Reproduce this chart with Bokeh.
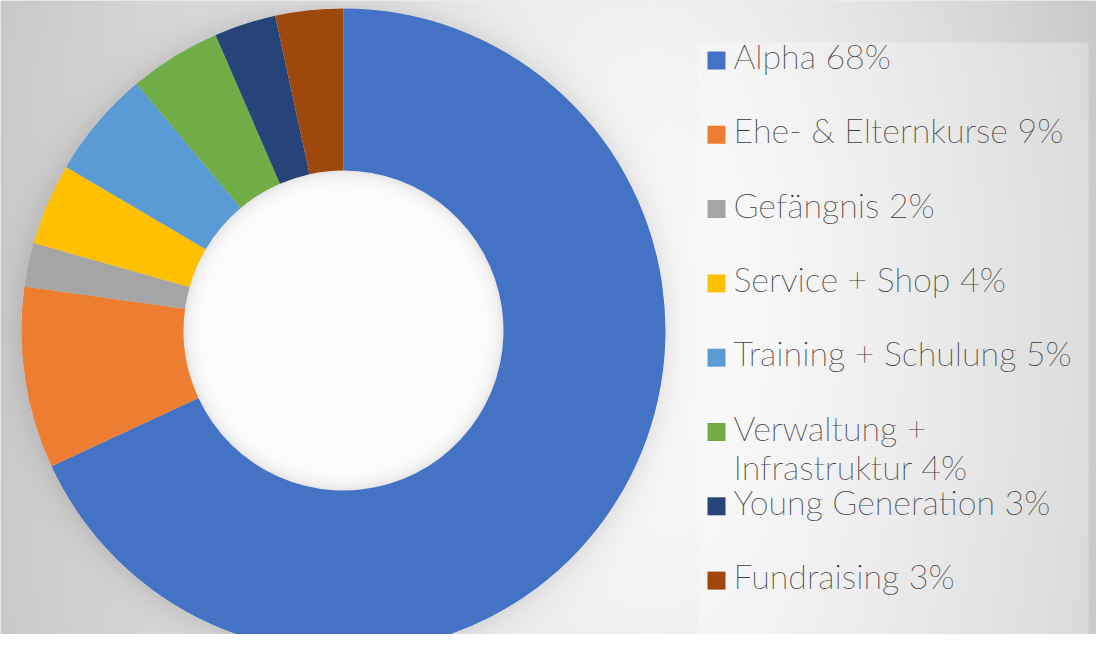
import numpy as np
from bokeh.plotting import figure
from bokeh.models import Range1d, ColumnDataSource
from bokeh.core.properties import value
from bokeh.embed import file_html
from bokeh.resources import INLINE

# ---------------- data ----------------
categories = ["Alpha", "Ehe- & Elternkurse", "Gefängnis", "Service + Shop",
              "Training + Schulung", "Verwaltung + Infrastruktur",
              "Young Generation", "Fundraising"]
values = [68.0, 9.1, 2.2, 4.1, 5.4, 4.6, 3.1, 3.4]
percent_labels = [68, 9, 2, 4, 5, 4, 3, 3]
colors = ["#4472C4", "#ED7D31", "#A5A5A5", "#FFC000",
          "#5B9BD5", "#70AD47", "#264478", "#9E480E"]

# ---------------- layout (reference pixel coordinates, y down) ----------------
W, H = 1096, 634


def yup(y):
    return H - y


CX, CY = 343, 330
R_OUT, R_IN = 322, 160
LEG_L, LEG_T, LEG_R, LEG_B = 697, 42, 1088, 636

p = figure(width=W, height=H, x_range=Range1d(0, W), y_range=Range1d(0, H),
           output_backend="svg", toolbar_location=None, min_border=0)
p.axis.visible = False
p.grid.visible = False
p.outline_line_color = None
p.background_fill_color = "#e0e0e0"
p.border_fill_color = "#e0e0e0"

# ---------------- background (gradient, shadows, legend panel) ----------------
xs = np.arange(W) + 0.5
ys = H - (np.arange(H) + 0.5)  # row 0 = bottom of figure
Xg, Yg = np.meshgrid(xs, ys)
dxn = np.where(Xg < 650, (Xg - 650) / 650.0, (Xg - 650) / 450.0)
dyn = (Yg - 330) / 330.0 * 0.35
d = np.sqrt(dxn ** 2 + dyn ** 2)
c = 252 - 48 * np.clip(d, 0, 1.2) ** 1.3
r = np.hypot(Xg - CX, Yg - CY)
c = np.where(r >= R_OUT, c - 20 * np.exp(-(r - R_OUT) / 14.0), c)
c = np.where(r < R_IN, 255 - 26 * np.exp(-(R_IN - r) / 8.0), c)
inleg = (Xg >= LEG_L) & (Xg <= LEG_R) & (Yg >= LEG_T) & (Yg <= LEG_B)
c = np.where(inleg, c + 0.3 * (255 - c), c)
c = np.clip(c, 0, 255).astype(np.uint8)
img = np.empty((H, W), dtype=np.uint32)
view = img.view(dtype=np.uint8).reshape((H, W, 4))
view[:, :, 0] = c
view[:, :, 1] = c
view[:, :, 2] = c
view[:, :, 3] = 255
p.image_rgba(image=[img], x=0, y=0, dw=W, dh=H)

# ---------------- donut ----------------
total = float(sum(values))
frac = np.array(values) / total
cum = np.concatenate([[0.0], np.cumsum(frac)]) * 2 * np.pi
src = ColumnDataSource(dict(start=np.pi / 2 - cum[:-1], end=np.pi / 2 - cum[1:],
                            color=colors, cat=categories))
p.annular_wedge(x=CX, y=yup(CY), inner_radius=R_IN, outer_radius=R_OUT,
                start_angle="start", end_angle="end", direction="clock",
                fill_color="color", line_color=None, source=src)

# ---------------- legend ----------------
def wrap(label, width=22):
    words = label.split(" ")
    lines, cur = [], ""
    for w in words:
        t = (cur + " " + w).strip()
        if len(t) > width and cur:
            lines.append(cur)
            cur = w
        else:
            cur = t
    lines.append(cur)
    return lines


FONT = value("Lato Thin")
row_y = [60 + i * 74.3 for i in range(len(categories))]
p.scatter(x=[716] * len(categories), y=[yup(v) for v in row_y], marker="square",
          size=18, fill_color=colors, line_color=None)
tx, ty, tt = [], [], []
for cat, pct, yy in zip(categories, percent_labels, row_y):
    lines = wrap(f"{cat} {pct}%")
    for k, ln in enumerate(lines):
        tx.append(733)
        ty.append(yup(yy - 5 + 39 * k))
        tt.append(ln)
p.text(x=tx, y=ty, text=tt, text_font=FONT, text_font_size="34px",
       text_color="#3c3c3c", text_baseline="alphabetic", text_align="left")

open("out.html", "w").write(file_html(p, INLINE))
